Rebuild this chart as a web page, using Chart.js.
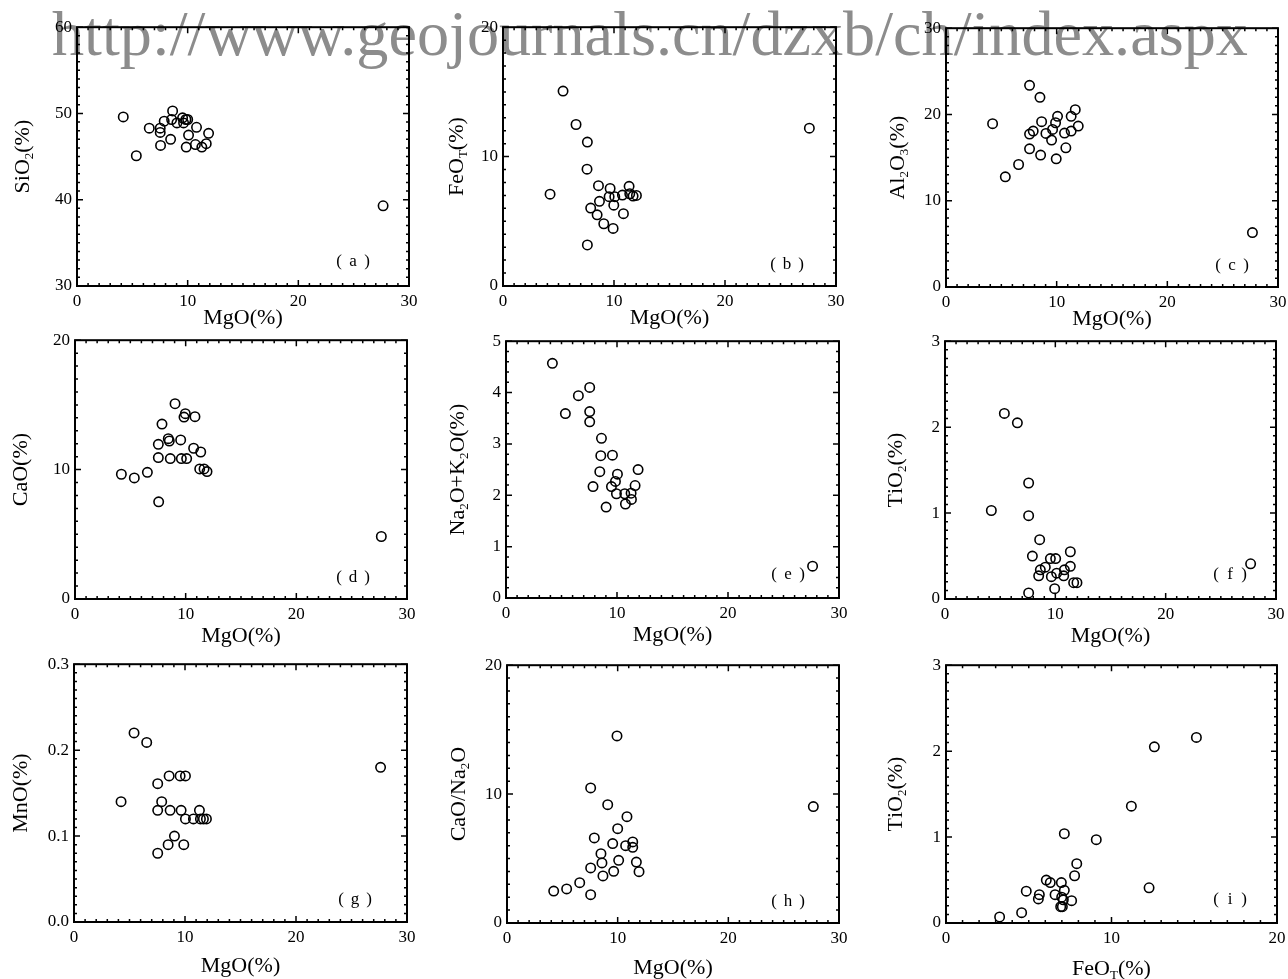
<!DOCTYPE html>
<html>
<head>
<meta charset="utf-8">
<script src="https://cdn.jsdelivr.net/npm/chart.js@4.4.1/dist/chart.umd.min.js"></script>
<style>
  body { margin: 0; background: #fff; width: 1288px; height: 979px; position: relative; overflow: hidden; }
  canvas { position: absolute; }
</style>
</head>
<body>
<canvas id="bg" width="1288" height="979" style="left:0;top:0"></canvas>
<script>
// values (MgO / FeOT on x, oxide on y)
const mgoA = [4.18, 5.36, 6.53, 7.52, 7.52, 7.55, 7.88, 8.46, 8.55, 8.64, 9.03, 9.54, 9.63, 9.84, 10.0, 10.08, 9.87, 10.8, 10.7, 11.28, 11.68, 11.89, 27.66];
const sio2 = [49.6, 45.1, 48.3, 48.3, 47.8, 46.3, 49.1, 47.0, 49.3, 50.3, 48.9, 49.5, 48.9, 49.3, 49.3, 47.5, 46.1, 48.4, 46.4, 46.1, 46.5, 47.7, 39.3];

const mgoB = [4.24, 5.41, 6.58, 7.6, 7.57, 7.6, 7.9, 8.48, 8.6, 8.69, 9.08, 9.65, 9.56, 10.07, 9.98, 9.92, 10.76, 10.85, 11.36, 11.42, 11.72, 12.02, 27.6];
const feot = [7.1, 15.06, 12.48, 11.12, 9.03, 3.17, 6.02, 5.5, 7.75, 6.54, 4.81, 7.54, 6.9, 6.9, 6.25, 4.45, 7.03, 5.59, 7.7, 7.13, 6.95, 7.0, 12.2];

const mgoC = [4.21, 5.36, 6.56, 7.55, 7.55, 7.55, 7.88, 8.49, 8.64, 8.55, 9.03, 9.54, 9.63, 9.9, 10.08, 9.96, 10.71, 10.83, 11.31, 11.31, 11.68, 11.95, 27.69];
const al2o3 = [18.93, 12.77, 14.2, 23.38, 17.73, 16.02, 18.08, 21.99, 19.16, 15.29, 17.8, 17.03, 18.27, 19.04, 19.78, 14.86, 17.84, 16.14, 19.78, 18.08, 20.55, 18.66, 6.31];

const mgoD = [4.19, 5.36, 6.54, 7.53, 7.53, 7.56, 7.86, 8.43, 8.52, 8.61, 9.04, 9.55, 9.61, 9.97, 9.85, 10.09, 10.84, 10.72, 11.36, 11.27, 11.66, 11.93, 27.68];
const cao = [9.64, 9.36, 9.79, 11.95, 10.93, 7.51, 13.52, 12.39, 12.21, 10.85, 15.09, 12.29, 10.85, 14.32, 14.06, 10.85, 14.09, 11.65, 11.36, 10.05, 10.05, 9.85, 4.83];

const mgoE = [4.18, 5.35, 6.52, 7.54, 7.54, 7.54, 7.84, 8.45, 8.54, 8.6, 9.02, 9.5, 9.59, 9.86, 9.95, 10.04, 10.7, 10.76, 11.27, 11.3, 11.63, 11.9, 27.62];
const alk = [4.57, 3.59, 3.94, 4.1, 3.63, 3.43, 2.17, 2.46, 2.77, 3.11, 1.77, 2.17, 2.78, 2.27, 2.03, 2.41, 2.03, 1.83, 2.04, 1.92, 2.19, 2.5, 0.62];

const mgoF = [4.2, 5.38, 6.56, 7.58, 7.58, 7.58, 7.92, 8.58, 8.49, 8.64, 9.09, 9.55, 9.64, 10.03, 9.94, 10.12, 10.76, 10.82, 11.36, 11.36, 11.66, 11.96, 27.7];
const tio2F = [1.03, 2.16, 2.05, 1.35, 0.97, 0.07, 0.5, 0.69, 0.27, 0.34, 0.37, 0.47, 0.26, 0.47, 0.12, 0.3, 0.27, 0.34, 0.55, 0.38, 0.19, 0.19, 0.41];

const mgoG = [4.24, 5.41, 6.55, 7.54, 7.54, 7.54, 7.9, 8.57, 8.66, 8.48, 9.05, 9.56, 9.65, 10.04, 9.89, 10.04, 10.76, 11.3, 11.39, 11.66, 11.93, 27.62];
const mno = [0.14, 0.22, 0.209, 0.161, 0.13, 0.08, 0.14, 0.17, 0.13, 0.09, 0.1, 0.17, 0.13, 0.17, 0.09, 0.12, 0.12, 0.13, 0.12, 0.12, 0.12, 0.18];

const mgoH = [4.22, 5.39, 6.57, 7.56, 7.56, 7.56, 7.89, 8.49, 8.58, 8.67, 9.1, 9.55, 9.64, 9.94, 10.0, 10.09, 10.72, 10.84, 11.36, 11.36, 11.69, 11.93, 27.68];
const caoNa = [2.48, 2.64, 3.13, 2.2, 4.27, 10.48, 6.6, 5.38, 4.66, 3.65, 9.18, 6.16, 4.01, 14.51, 7.32, 4.86, 6.0, 8.25, 6.29, 5.87, 4.73, 3.98, 9.03];

const feotI = [3.24, 4.57, 4.85, 5.58, 5.64, 6.06, 6.3, 6.59, 6.97, 6.93, 7.03, 6.99, 7.09, 7.15, 7.15, 7.59, 7.77, 7.9, 9.08, 11.2, 12.27, 12.59, 15.13];
const tio2I = [0.07, 0.12, 0.37, 0.28, 0.33, 0.5, 0.47, 0.33, 0.47, 0.19, 0.19, 0.3, 0.27, 0.38, 1.04, 0.26, 0.55, 0.69, 0.97, 1.36, 0.41, 2.05, 2.16];

const watermark = 'http://www.geojournals.cn/dzxb/ch/index.aspx';

// layout of each panel: plot rectangle [left, top, right, bottom] on the page
const panels = [
  { tag: 'a', rect: [77, 27, 409, 286],  xs: mgoA,  ys: sio2,  xr: [0, 30, 10, 1], yr: [30, 60, 10, 1],    xt: 'MgO(%)',  yt: 'SiO_2(%)',      yOff: 55, xOff: 31, lab: [56, 24] },
  { tag: 'b', rect: [503, 27, 836, 286], xs: mgoB,  ys: feot,  xr: [0, 30, 10, 1], yr: [0, 20, 10, 1],     xt: 'MgO(%)',  yt: 'FeO_T(%)',      yOff: 47, xOff: 31, lab: [49, 21] },
  { tag: 'c', rect: [946, 28, 1278, 287],xs: mgoC,  ys: al2o3, xr: [0, 30, 10, 1], yr: [0, 30, 10, 1],     xt: 'MgO(%)',  yt: 'Al_2O_3(%)',    yOff: 49, xOff: 31, lab: [46, 21] },
  { tag: 'd', rect: [75, 340, 407, 599], xs: mgoD,  ys: cao,   xr: [0, 30, 10, 1], yr: [0, 20, 10, 1],     xt: 'MgO(%)',  yt: 'CaO(%)',        yOff: 55, xOff: 36, lab: [54, 21] },
  { tag: 'e', rect: [506, 341, 839, 598],xs: mgoE,  ys: alk,   xr: [0, 30, 10, 1], yr: [0, 5, 1, 0.2],     xt: 'MgO(%)',  yt: 'Na_2O+K_2O(%)', yOff: 49, xOff: 36, lab: [51, 23] },
  { tag: 'f', rect: [945, 341, 1276, 599],xs: mgoF, ys: tio2F, xr: [0, 30, 10, 1], yr: [0, 3, 1, 0.1],     xt: 'MgO(%)',  yt: 'TiO_2(%)',      yOff: 50, xOff: 36, lab: [46, 24] },
  { tag: 'g', rect: [74, 664, 407, 922], xs: mgoG,  ys: mno,   xr: [0, 30, 10, 1], yr: [0, 0.3, 0.1, 0.01],xt: 'MgO(%)',  yt: 'MnO(%)',        yOff: 54, xOff: 43, lab: [52, 22], dec: 1 },
  { tag: 'h', rect: [507, 665, 839, 923],xs: mgoH,  ys: caoNa, xr: [0, 30, 10, 1], yr: [0, 20, 10, 1],     xt: 'MgO(%)',  yt: 'CaO/Na_2O',     yOff: 49, xOff: 44, lab: [51, 21] },
  { tag: 'i', rect: [946, 665, 1277, 923],xs: feotI,ys: tio2I, xr: [0, 20, 10, 1], yr: [0, 3, 1, 0.1],     xt: 'FeO_T(%)',yt: 'TiO_2(%)',      yOff: 51, xOff: 45, lab: [47, 23] }
];

const SERIF = "'Liberation Serif', 'Times New Roman', serif";
const PAD_L = 75, PAD_T = 15, PAD_R = 15, PAD_B = 60;

// watermark behind the charts
(function () {
  const ctx = document.getElementById('bg').getContext('2d');
  ctx.font = '64px ' + SERIF;
  const w = ctx.measureText(watermark).width;
  const size = 64 * 1196 / w;
  ctx.font = size + 'px ' + SERIF;
  ctx.fillStyle = '#8c8c8c';
  ctx.textBaseline = 'alphabetic';
  ctx.fillText(watermark, 52, 55);
})();

// text with "_x" subscripts, centred on (x, y), optionally rotated
function richText(ctx, str, x, y, size, rotate) {
  const parts = [];
  for (let i = 0; i < str.length; i++) {
    if (str[i] === '_') { parts.push({ t: str[i + 1], sub: true }); i++; }
    else parts.push({ t: str[i], sub: false });
  }
  const subSize = Math.round(size * 0.6);
  let total = 0;
  parts.forEach(p => {
    ctx.font = (p.sub ? subSize : size) + 'px ' + SERIF;
    p.w = ctx.measureText(p.t).width;
    total += p.w;
  });
  ctx.save();
  ctx.translate(x, y);
  if (rotate) ctx.rotate(-Math.PI / 2);
  ctx.fillStyle = '#000';
  ctx.textBaseline = 'alphabetic';
  let cx = -total / 2;
  const base = size * 0.34;
  parts.forEach(p => {
    ctx.font = (p.sub ? subSize : size) + 'px ' + SERIF;
    ctx.fillText(p.t, cx, base + (p.sub ? size * 0.18 : 0));
    cx += p.w;
  });
  ctx.restore();
}

// panel tag like （a）: wide-set brackets around a serif letter
function tagText(ctx, tag, x, y) {
  ctx.save();
  ctx.fillStyle = '#000';
  ctx.textAlign = 'center';
  ctx.textBaseline = 'middle';
  ctx.font = '17px ' + SERIF;
  ctx.fillText('(', x - 14, y);
  ctx.fillText(tag, x, y);
  ctx.fillText(')', x + 14, y);
  ctx.restore();
}

const frameTicks = {
  id: 'frameTicks',
  afterDraw(chart, args, opts) {
    const p = opts.panel;
    const { ctx, chartArea: ca, scales } = chart;
    ctx.save();
    ctx.strokeStyle = '#000';
    ctx.lineWidth = 1.5;
    const tick = (scale, range, horiz) => {
      const [lo, hi, major, minor] = range;
      const n = Math.round((hi - lo) / minor);
      for (let k = 0; k <= n; k++) {
        const v = lo + k * minor;
        const r = (v - lo) / major;
        const len = Math.abs(r - Math.round(r)) < 1e-6 ? 6 : 3;
        const px = scale.getPixelForValue(v);
        ctx.beginPath();
        if (horiz) {
          ctx.moveTo(px, ca.bottom); ctx.lineTo(px, ca.bottom - len);
          ctx.moveTo(px, ca.top); ctx.lineTo(px, ca.top + len);
        } else {
          ctx.moveTo(ca.left, px); ctx.lineTo(ca.left + len, px);
          ctx.moveTo(ca.right, px); ctx.lineTo(ca.right - len, px);
        }
        ctx.stroke();
      }
    };
    tick(scales.x, p.xr, true);
    tick(scales.y, p.yr, false);
    ctx.lineWidth = 2;
    ctx.strokeRect(ca.left, ca.top, ca.right - ca.left, ca.bottom - ca.top);
    ctx.restore();

    richText(ctx, p.xt, (ca.left + ca.right) / 2, ca.bottom + p.xOff, 22, false);
    richText(ctx, p.yt, ca.left - p.yOff, (ca.top + ca.bottom) / 2, 22, true);
    tagText(ctx, p.tag, ca.right - p.lab[0], ca.bottom - p.lab[1]);
  }
};

panels.forEach(p => {
  const [L, T, R, B] = p.rect;
  const cv = document.createElement('canvas');
  cv.width = R - L + PAD_L + PAD_R;
  cv.height = B - T + PAD_T + PAD_B;
  cv.style.left = (L - PAD_L) + 'px';
  cv.style.top = (T - PAD_T) + 'px';
  document.body.appendChild(cv);

  const pts = p.xs.map((x, i) => ({ x: x, y: p.ys[i] }));
  const tickFont = { family: SERIF, size: 17 };

  new Chart(cv.getContext('2d'), {
    type: 'scatter',
    data: {
      datasets: [{
        data: pts,
        pointStyle: 'circle',
        pointRadius: 4.7,
        pointHoverRadius: 4.7,
        borderWidth: 1.6,
        borderColor: '#000',
        backgroundColor: 'rgba(0,0,0,0)'
      }]
    },
    options: {
      responsive: false,
      animation: false,
      events: [],
      layout: { padding: { left: 0, top: PAD_T, right: PAD_R, bottom: 0 } },
      plugins: {
        legend: { display: false },
        tooltip: { enabled: false },
        frameTicks: { panel: p }
      },
      scales: {
        x: {
          type: 'linear',
          min: p.xr[0], max: p.xr[1],
          afterFit(s) { s.height = PAD_B; },
          grid: { display: false, drawTicks: false },
          border: { display: false },
          ticks: { stepSize: p.xr[2], color: '#000', font: tickFont, padding: 5, maxRotation: 0 }
        },
        y: {
          type: 'linear',
          min: p.yr[0], max: p.yr[1],
          afterFit(s) { s.width = PAD_L; },
          grid: { display: false, drawTicks: false },
          border: { display: false },
          ticks: {
            stepSize: p.yr[2], color: '#000', font: tickFont, padding: 5,
            callback: v => p.dec ? Number(v).toFixed(p.dec) : String(Math.round(v * 100) / 100)
          }
        }
      }
    },
    plugins: [frameTicks]
  });
});
</script>
</body>
</html>
